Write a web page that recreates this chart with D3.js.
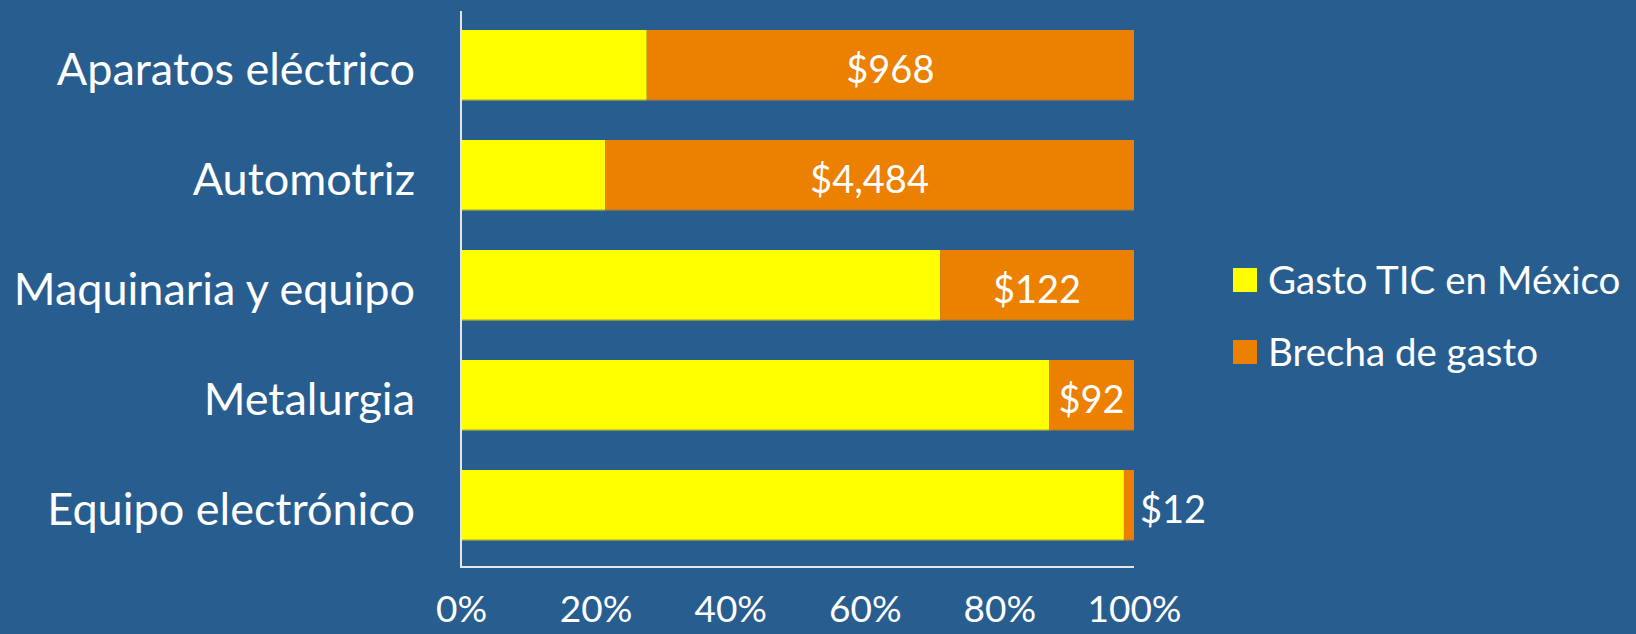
<!DOCTYPE html>
<html>
<head>
<meta charset="utf-8">
<script src="https://cdn.jsdelivr.net/npm/d3@7"></script>
<style>
  html, body { margin: 0; padding: 0; background: #285d90; }
  svg text { font-family: Lato, "Open Sans", sans-serif; fill: #ffffff; }
</style>
</head>
<body>
<div id="app"></div>
<script>
const WIDTH = 1636, HEIGHT = 634;

// data (shares in %, gap labels in millions of dollars)
const categories = ["Aparatos eléctrico", "Automotriz", "Maquinaria y equipo", "Metalurgia", "Equipo electrónico"];
const gastoTIC = [27.6, 21.4, 71.2, 87.4, 98.5];
const brecha = [72.4, 78.6, 28.8, 12.6, 1.5];
const brechaLabels = ["$968", "$4,484", "$122", "$92", "$12"];
const seriesNames = ["Gasto TIC en México", "Brecha de gasto"];
const xTicks = [0, 20, 40, 60, 80, 100];

const colors = ["#ffff00", "#ec8000"];
const margin = { top: 11, left: 461, right: 502, bottom: 67 };

const svg = d3.select("#app").append("svg")
    .attr("width", WIDTH)
    .attr("height", HEIGHT);

svg.append("rect").attr("width", WIDTH).attr("height", HEIGHT).attr("fill", "#285d90");

const x = d3.scaleLinear([0, 100], [margin.left, WIDTH - margin.right]);
const y = d3.scaleBand(categories, [8, 562.4])
    .paddingInner(0.36)
    .paddingOuter(0.2);

const rows = categories.map((c, i) => ({ cat: c, tic: gastoTIC[i], gap: brecha[i], label: brechaLabels[i] }));

// stacked bars
const bars = svg.append("g");
bars.selectAll("rect.tic")
    .data(rows)
    .join("rect")
    .attr("x", x(0))
    .attr("y", d => y(d.cat))
    .attr("width", d => x(d.tic) - x(0))
    .attr("height", y.bandwidth())
    .attr("fill", colors[0]);

bars.selectAll("rect.gap")
    .data(rows)
    .join("rect")
    .attr("x", d => x(d.tic))
    .attr("y", d => y(d.cat))
    .attr("width", d => x(d.tic + d.gap) - x(d.tic))
    .attr("height", y.bandwidth())
    .attr("fill", colors[1]);

// thin shadow line under each bar, like the original
bars.selectAll("line")
    .data(rows)
    .join("line")
    .attr("x1", x(0))
    .attr("x2", x(100))
    .attr("y1", d => y(d.cat) + y.bandwidth() - 0.5)
    .attr("y2", d => y(d.cat) + y.bandwidth() - 0.5)
    .attr("stroke", "#7f7f50")
    .attr("stroke-opacity", 0.6);

// gap labels: centred in the orange segment, outside when it is too thin
svg.append("g").selectAll("text")
    .data(rows)
    .join("text")
    .attr("x", d => d.gap < 5 ? x(d.tic + d.gap) + 6 : x(d.tic + d.gap / 2))
    .attr("y", d => y(d.cat) + y.bandwidth() / 2 + 4)
    .attr("dy", "0.35em")
    .attr("text-anchor", d => d.gap < 5 ? "start" : "middle")
    .style("font-size", "38px")
    .text(d => d.label);

// axes
const yAxis = svg.append("g")
    .attr("transform", `translate(${margin.left},0)`)
    .call(d3.axisLeft(y).tickSize(0).tickPadding(46));
yAxis.select(".domain").remove();
yAxis.selectAll("text").style("font-size", "45px").attr("dy", "0.44em");

const xAxis = svg.append("g")
    .attr("transform", `translate(0,${HEIGHT - margin.bottom})`)
    .call(d3.axisBottom(x).tickValues(xTicks).tickSize(0).tickPadding(29).tickFormat(d => d + "%"));
xAxis.select(".domain").remove();
xAxis.selectAll("text").style("font-size", "37px");

// axis lines (L shape)
svg.append("path")
    .attr("d", d3.line()([[x(0), margin.top], [x(0), HEIGHT - margin.bottom], [x(100), HEIGHT - margin.bottom]]))
    .attr("fill", "none")
    .attr("stroke", "#e6e6e6")
    .attr("stroke-width", 2);

// legend
const legend = svg.append("g").attr("transform", "translate(1233,268)");
const item = legend.selectAll("g")
    .data(seriesNames)
    .join("g")
    .attr("transform", (d, i) => `translate(0,${i * 72})`);
item.append("rect").attr("width", 24).attr("height", 24).attr("fill", (d, i) => colors[i]);
item.append("text")
    .attr("x", 35)
    .attr("y", 12)
    .attr("dy", "0.36em")
    .style("font-size", "38.5px")
    .text(d => d);
</script>
</body>
</html>
